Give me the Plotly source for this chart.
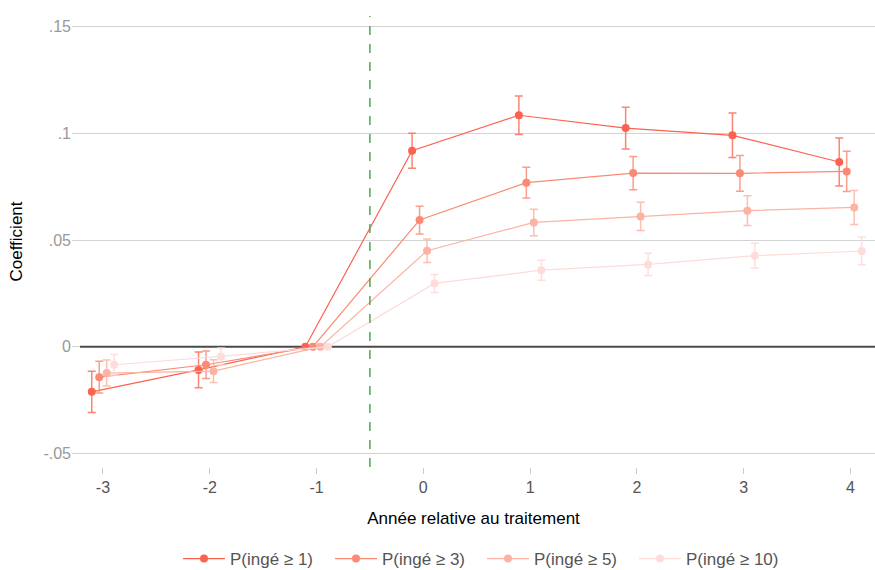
import plotly.graph_objects as go

years = [-3, -2, -1, 0, 1, 2, 3, 4]
series_names = ["P(ingé ≥ 1)", "P(ingé ≥ 3)", "P(ingé ≥ 5)", "P(ingé ≥ 10)"]

coef_1 = [-0.0211, -0.0108, 0.0, 0.0919, 0.1085, 0.1025, 0.0991, 0.0866]
ci_1 = [0.0097, 0.0084, 0.0, 0.0082, 0.0090, 0.0098, 0.0104, 0.0112]

coef_3 = [-0.0142, -0.0084, 0.0, 0.0594, 0.0769, 0.0814, 0.0813, 0.0822]
ci_3 = [0.0074, 0.0064, 0.0, 0.0065, 0.0072, 0.0078, 0.0084, 0.0094]

coef_5 = [-0.0123, -0.0114, 0.0, 0.0450, 0.0583, 0.0611, 0.0638, 0.0653]
ci_5 = [0.0061, 0.0053, 0.0, 0.0055, 0.0062, 0.0066, 0.0070, 0.0080]

coef_10 = [-0.0084, -0.0045, 0.0, 0.0297, 0.0359, 0.0386, 0.0427, 0.0449]
ci_10 = [0.0048, 0.0040, 0.0, 0.0042, 0.0047, 0.0052, 0.0058, 0.0065]

y_tickvals = [-0.05, 0, 0.05, 0.1, 0.15]
y_ticktext = ["-.05", "0", ".05", ".1", ".15"]

coefs = [coef_1, coef_3, coef_5, coef_10]
cis = [ci_1, ci_3, ci_5, ci_10]
offsets = [-0.105, -0.035, 0.035, 0.105]
marker_colors = ["#fb6350", "#fb8a74", "#fcb3a3", "#fddcda"]
err_colors = ["rgba(251,110,90,0.85)", "rgba(251,140,120,0.85)", "rgba(252,180,165,0.85)", "rgba(253,220,218,0.9)"]

fig = go.Figure()

# zero line
fig.add_shape(type="line", xref="x", yref="y", x0=-3.215, x1=4.23, y0=0, y1=0,
              line=dict(color="#4a4a4a", width=2), layer="between")
# treatment line
fig.add_shape(type="line", xref="x", yref="paper", x0=-0.5, x1=-0.5, y0=0, y1=1,
              line=dict(color="#4ea64e", width=1.5, dash="dash"), layer="above")

for name, c, ci, off, mc, ec in zip(series_names, coefs, cis, offsets, marker_colors, err_colors):
    fig.add_trace(go.Scatter(
        x=[yr + off for yr in years], y=c,
        mode="lines+markers", name=name,
        line=dict(color=mc, width=1.2),
        marker=dict(color=mc, size=8),
        error_y=dict(type="data", array=ci, visible=True, color=ec, thickness=1.5, width=4),
    ))

fig.update_layout(
    width=875, height=570,
    margin=dict(l=72, r=0, t=16, b=103, autoexpand=False),
    paper_bgcolor="white", plot_bgcolor="white",
    font=dict(family="Liberation Sans, Arial, sans-serif", size=16, color="#000"),
    showlegend=True,
    legend=dict(orientation="h", x=0.132, xanchor="left", y=-0.204, yanchor="middle",
                font=dict(size=17, color="#555"), itemwidth=42,
                entrywidth=95, entrywidthmode="pixels"),
    xaxis=dict(range=[-3.29, 4.23], tickvals=years, ticktext=[str(v) for v in years],
               showgrid=False, zeroline=False, showline=False, automargin=False,
               ticks="outside", ticklen=6, tickcolor="#cccccc", tickwidth=1,
               tickfont=dict(color="#555", size=16),
               title=dict(text="Année relative au traitement", font=dict(size=17, color="#000"), standoff=16)),
    yaxis=dict(range=[-0.0563, 0.155], tickvals=y_tickvals, ticktext=y_ticktext,
               showgrid=True, gridcolor="#d3d3d3", gridwidth=1, zeroline=False, showline=False,
               automargin=False, ticks="", tickfont=dict(color="#999", size=16),
               title=dict(text="Coefficient", font=dict(size=17, color="#000"), standoff=16)),
)

fig.write_html("out.html", config={"displayModeBar": False},
               post_script="document.body.style.margin='0';")
